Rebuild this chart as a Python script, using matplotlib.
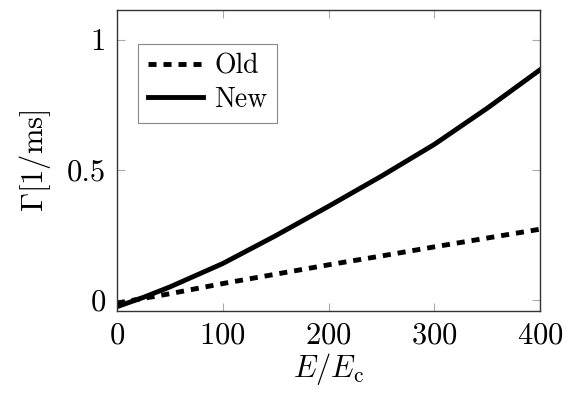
import matplotlib
matplotlib.use("Agg")
import matplotlib.pyplot as plt

plt.rcParams['font.family'] = 'cmr10'
plt.rcParams['mathtext.fontset'] = 'cm'
plt.rcParams['axes.formatter.use_mathtext'] = True
plt.rcParams['lines.scale_dashes'] = False

# field ratio E/E_c and decay rates in 1/ms
E = [0, 25, 50, 100, 150, 200, 250, 300, 350, 400]
old = [-0.012, 0.006, 0.024, 0.063, 0.099, 0.135, 0.169, 0.204, 0.238, 0.272]
new = [-0.026, 0.010, 0.050, 0.140, 0.247, 0.360, 0.476, 0.598, 0.737, 0.885]

fig = plt.figure(figsize=(5.68, 3.94), dpi=100)
ax = fig.add_axes([0.206, 0.211, 0.745, 0.764])

ax.plot(E, old, color='black', lw=3.5, dashes=(5.8, 5.0), label='Old')
ax.plot(E, new, color='black', lw=3.5, label='New')

ax.set_xlim(0, 400)
ax.set_ylim(-0.042, 1.115)
ax.set_xticks([0, 100, 200, 300, 400])
ax.set_yticks([0, 0.5, 1])
ax.set_yticklabels(['0', '0.5', '1'])
ax.tick_params(direction='in', length=6, width=0.8, color='#aaaaaa',
               top=True, right=True, labelsize=22, pad=8)
for s in ax.spines.values():
    s.set_linewidth(1.0)
    s.set_color('#333333')

ax.set_xlabel(r'$E/E_\mathrm{c}$', fontsize=22, labelpad=1)
ax.set_ylabel(r'$\Gamma[1/\mathrm{ms}]$', fontsize=22, labelpad=10)

leg = ax.legend(loc='upper left', bbox_to_anchor=(0.05, 0.887), fontsize=20,
                fancybox=False, edgecolor='#888888', framealpha=1,
                borderaxespad=0, handlelength=2.0, handletextpad=0.4,
                borderpad=0.35, labelspacing=0.25)
leg.get_frame().set_linewidth(0.8)

fig.savefig('out.png', dpi=100)
